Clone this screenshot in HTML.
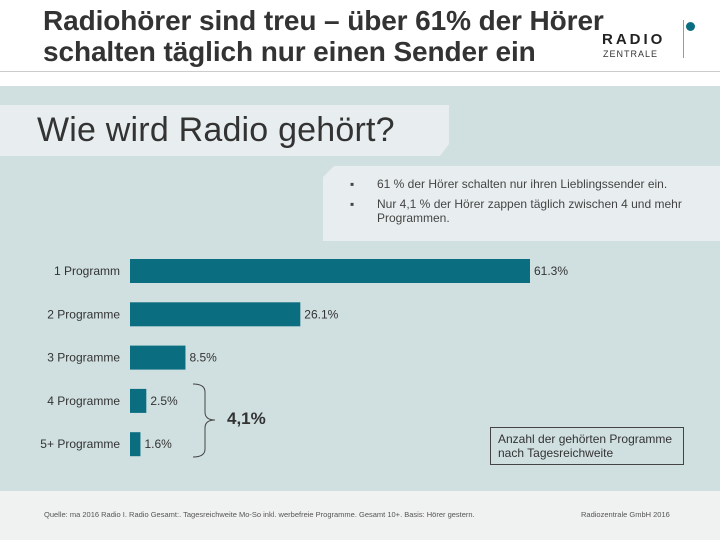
<!DOCTYPE html>
<html><head><meta charset="utf-8"><style>
body{margin:0;width:720px;height:540px;position:relative;overflow:hidden;background:#fff;font-family:"Liberation Sans",sans-serif;}
div{position:absolute;}
</style></head><body>
<div style="left:43px;top:5px;font-size:28px;line-height:31px;color:#333;font-weight:bold;letter-spacing:-0.1px;white-space:nowrap;">Radiohörer sind treu – über 61% der Hörer<br>schalten täglich nur einen Sender ein</div>
<div style="left:600px;top:18px;width:100px;height:40px;">
 <div style="left:2px;top:13px;font-size:15px;font-weight:bold;letter-spacing:3px;color:#222;">RADIO</div>
 <div style="left:3px;top:31px;font-size:9px;letter-spacing:1px;color:#333;">ZENTRALE</div>
 <div style="left:83px;top:2px;width:1px;height:38px;background:#999;"></div>
 <div style="left:86px;top:4px;width:9px;height:9px;border-radius:50%;background:#0a6e80;"></div>
</div>
<div style="left:0;top:71px;width:720px;height:1px;background:#ccc;"></div>
<div style="left:0;top:86px;width:720px;height:405px;background:#d0dfe0;"></div>
<div style="left:0;top:491px;width:720px;height:49px;background:#f0f1f1;"></div>
<svg style="position:absolute;left:0;top:0" width="720" height="540">
 <polygon points="0,105 449,105 449,144 440,156 0,156" fill="#e8eeef"/>
 <polygon points="334,166 720,166 720,241 323,241 323,177" fill="#e8eeef"/>
</svg>
<div style="left:37px;top:111px;font-size:34px;color:#333;letter-spacing:0.2px;white-space:nowrap;">Wie wird Radio gehört?</div>
<div style="left:350px;top:177px;font-size:12px;color:#444;line-height:14px;width:360px;">
 <div style="left:0;top:0;">▪</div><div style="left:27px;top:0;width:330px;">61 % der Hörer schalten nur ihren Lieblingssender ein.</div>
 <div style="left:0;top:20px;">▪</div><div style="left:27px;top:20px;width:320px;">Nur 4,1 % der Hörer zappen täglich zwischen 4 und mehr Programmen.</div>
</div>
<svg id="chart" style="position:absolute;left:0;top:0" width="720" height="540"></svg>
<div style="left:227px;top:409px;font-size:17px;font-weight:bold;color:#333;">4,1%</div>
<div style="left:490px;top:427px;width:192px;height:36px;border:1px solid #444;font-size:12px;line-height:14px;color:#333;white-space:nowrap;"><span style="position:absolute;left:7px;top:4px;">Anzahl der gehörten Programme<br>nach Tagesreichweite</span></div>
<div style="left:44px;top:510px;font-size:7.5px;color:#555;white-space:nowrap;">Quelle: ma 2016 Radio I. Radio Gesamt:. Tagesreichweite Mo-So inkl. werbefreie Programme. Gesamt 10+. Basis: Hörer gestern.</div>
<div style="left:581px;top:510px;font-size:7.5px;color:#555;white-space:nowrap;">Radiozentrale GmbH 2016</div>
<script>
const categories=["1 Programm","2 Programme","3 Programme","4 Programme","5+ Programme"];
const values=[61.3,26.1,8.5,2.5,1.6];
const labels=["61.3%","26.1%","8.5%","2.5%","1.6%"];
const svg=document.getElementById('chart');
const NS='http://www.w3.org/2000/svg';
const x0=130,scale=400/61.3;
function xs(v){return v*scale;}
function yc(i){return 271+i*43.3;}
categories.forEach((c,i)=>{
 const r=document.createElementNS(NS,'rect');
 r.setAttribute('x',x0);r.setAttribute('y',yc(i)-12);r.setAttribute('width',xs(values[i]));r.setAttribute('height',24);r.setAttribute('fill','#0a6e80');
 
 
 svg.appendChild(r);
 const t=document.createElementNS(NS,'text');
 t.setAttribute('x',120);t.setAttribute('y',yc(i)+4);t.setAttribute('text-anchor','end');t.setAttribute('font-size','12');t.setAttribute('fill','#333');t.setAttribute('font-family','Liberation Sans');t.textContent=c;
 
 
 svg.appendChild(t);
 const v=document.createElementNS(NS,'text');
 v.setAttribute('x',x0+xs(values[i])+4);v.setAttribute('y',yc(i)+4);v.setAttribute('font-size','12');v.setAttribute('fill','#333');v.setAttribute('font-family','Liberation Sans');v.textContent=labels[i];
 
 
 svg.appendChild(v);
});
const b=document.createElementNS(NS,'path');
b.setAttribute('d','M193,384 Q205,384 205,392 L205,412 Q205,420 215,420 Q205,420 205,428 L205,449 Q205,457 193,457');
b.setAttribute('fill','none');b.setAttribute('stroke','#444');b.setAttribute('stroke-width','1');


svg.appendChild(b);
</script>
</body></html>
